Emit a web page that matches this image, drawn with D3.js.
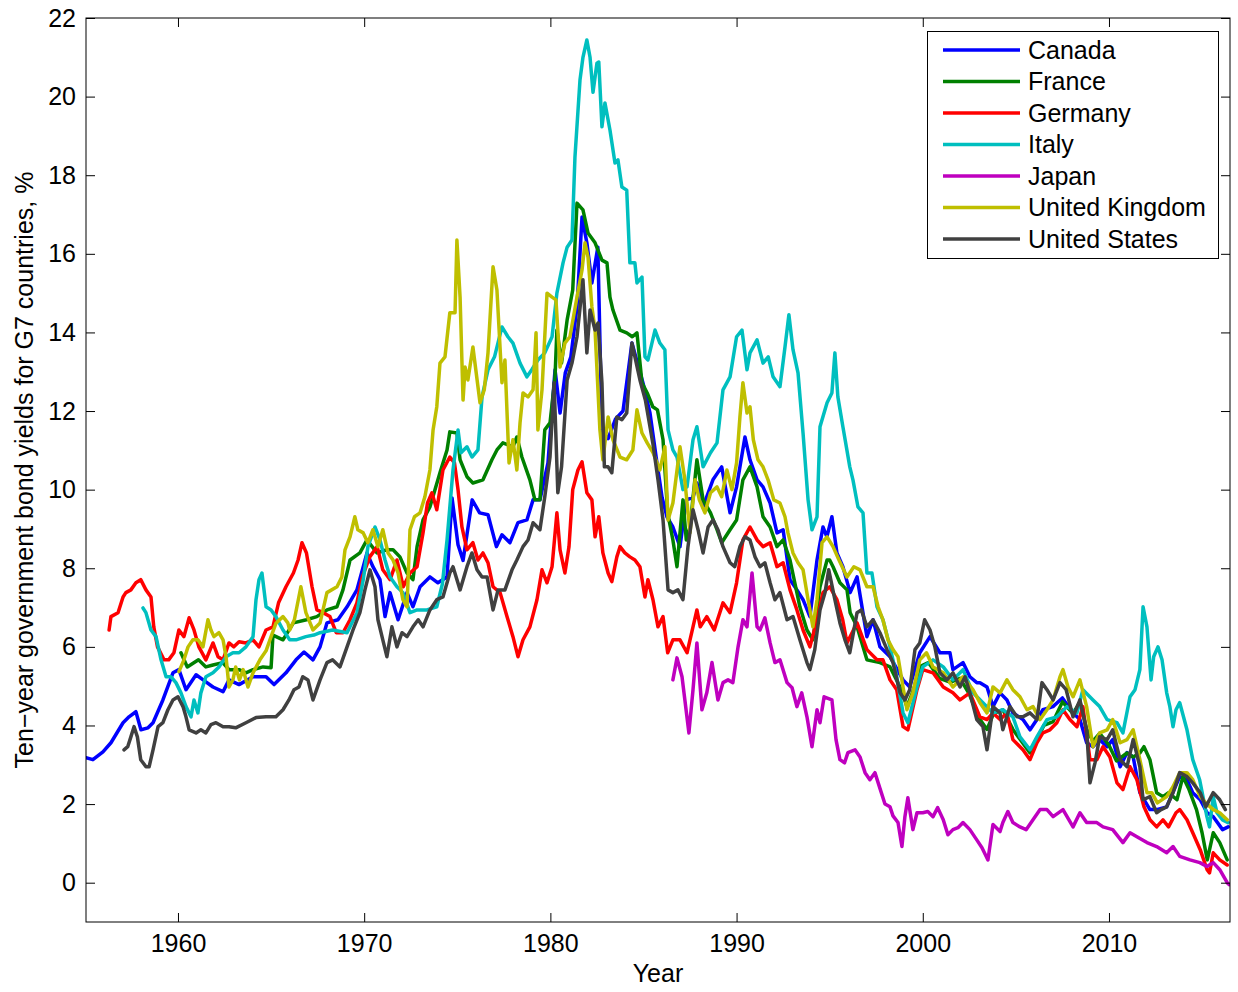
<!DOCTYPE html>
<html>
<head>
<meta charset="utf-8">
<script src="https://cdn.jsdelivr.net/npm/d3@7/dist/d3.min.js"></script>
<style>
  html, body { margin: 0; padding: 0; background: #fff; }
  svg { display: block; }
  text { font-family: "Liberation Sans", Arial, Helvetica, sans-serif; fill: #000; }
</style>
</head>
<body>
<svg id="chart" width="1238" height="992"></svg>
<script>
// ---------------- DATA ----------------
const countries = ["Canada", "France", "Germany", "Italy", "Japan", "United Kingdom", "United States"];
const xTicks = [1960, 1970, 1980, 1990, 2000, 2010];
const yTicks = [0, 2, 4, 6, 8, 10, 12, 14, 16, 18, 20, 22];

const canada = [[1955.06,3.18],[1955.43,3.13],[1955.97,3.33],[1956.4,3.56],[1957.05,4.07],[1957.37,4.22],[1957.74,4.35],[1958.01,3.89],[1958.39,3.94],[1958.66,4.07],[1959.19,4.65],[1959.73,5.34],[1960.05,5.42],[1960.43,4.91],[1960.97,5.29],[1961.5,5.11],[1961.88,4.98],[1962.42,4.86],[1962.74,5.16],[1963.28,5.04],[1964.03,5.24],[1964.73,5.24],[1965.16,5.04],[1965.8,5.34],[1966.34,5.67],[1966.77,5.87],[1967.25,5.67],[1967.63,6.0],[1968.0,6.61],[1968.59,6.69],[1969.08,7.02],[1969.61,7.45],[1970.15,8.39],[1970.47,8.04],[1970.85,7.71],[1971.12,6.77],[1971.39,7.38],[1971.82,6.69],[1972.3,7.38],[1972.62,7.02],[1973.0,7.53],[1973.53,7.78],[1973.96,7.63],[1974.45,7.78],[1974.72,9.79],[1975.04,8.6],[1975.31,8.2],[1975.8,9.74],[1976.2,9.41],[1976.65,9.36],[1977.1,8.55],[1977.4,8.85],[1977.83,8.65],[1978.26,9.16],[1978.74,9.23],[1979.07,9.74],[1979.44,9.74],[1979.87,10.68],[1980.25,13.05],[1980.52,11.95],[1980.8,12.97],[1981.1,13.38],[1981.43,14.65],[1981.7,16.94],[1981.96,16.28],[1982.23,15.26],[1982.55,16.17],[1982.77,11.5],[1983.1,11.3],[1983.5,11.8],[1983.9,12.0],[1984.38,13.73],[1984.97,12.72],[1985.35,11.95],[1985.7,10.76],[1986.0,9.8],[1986.26,9.31],[1986.58,9.05],[1986.96,8.55],[1987.3,9.74],[1987.66,9.8],[1987.87,10.17],[1988.2,9.56],[1988.73,10.25],[1989.2,10.58],[1989.65,9.41],[1990.0,10.07],[1990.45,11.34],[1990.72,10.76],[1991.1,10.25],[1991.42,10.07],[1991.8,9.66],[1992.17,8.9],[1992.5,8.98],[1992.87,7.71],[1993.24,7.45],[1993.57,7.2],[1993.94,6.77],[1994.32,8.21],[1994.64,9.05],[1994.85,8.8],[1995.12,9.31],[1995.39,8.39],[1995.71,8.04],[1996.1,7.38],[1996.47,7.78],[1997.0,6.26],[1997.33,6.69],[1997.7,6.0],[1998.24,5.75],[1998.94,5.16],[1999.3,4.98],[1999.84,5.85],[2000.39,6.26],[2000.92,5.85],[2001.46,5.85],[2001.62,5.42],[2002.16,5.6],[2002.53,5.24],[2002.9,5.09],[2003.07,5.09],[2003.45,4.98],[2003.77,4.48],[2004.15,4.83],[2004.52,4.65],[2004.84,4.32],[2005.38,4.15],[2005.76,3.89],[2006.13,4.15],[2006.45,4.4],[2006.99,4.48],[2007.5,4.7],[2008.07,4.32],[2008.44,4.15],[2008.8,3.56],[2009.14,3.46],[2009.5,3.64],[2009.9,3.46],[2010.2,3.64],[2010.6,2.95],[2010.97,3.31],[2011.3,3.2],[2011.66,2.29],[2012.2,1.86],[2012.56,1.86],[2013.1,1.93],[2013.8,2.7],[2014.19,2.62],[2014.5,2.29],[2014.9,2.11],[2015.27,1.78],[2015.6,1.68],[2016.1,1.35],[2016.4,1.42]];

const france = [[1960.16,5.85],[1960.5,5.49],[1961.1,5.67],[1961.5,5.49],[1961.88,5.54],[1962.4,5.6],[1962.74,5.42],[1963.28,5.42],[1963.65,5.34],[1964.03,5.42],[1964.57,5.49],[1965.0,5.47],[1965.1,6.3],[1965.64,6.18],[1966.2,6.61],[1966.9,6.69],[1967.46,6.77],[1968.0,6.94],[1968.54,7.02],[1968.86,7.45],[1969.24,8.21],[1969.77,8.39],[1970.15,8.72],[1970.69,8.39],[1971.22,8.47],[1971.55,8.47],[1971.92,8.29],[1972.3,7.88],[1972.62,7.71],[1972.84,8.55],[1973.16,9.23],[1973.53,9.56],[1974.07,10.43],[1974.45,11.01],[1974.6,11.47],[1974.98,11.44],[1975.15,10.76],[1975.52,10.33],[1975.84,10.17],[1976.38,10.25],[1976.86,10.76],[1977.13,11.01],[1977.45,11.19],[1977.99,11.09],[1978.2,11.34],[1978.47,10.83],[1978.9,10.25],[1979.17,9.74],[1979.44,9.74],[1979.7,11.52],[1979.98,11.7],[1980.25,12.87],[1980.35,14.06],[1980.6,13.22],[1980.9,14.32],[1981.2,15.08],[1981.43,17.29],[1981.75,17.12],[1982.02,16.53],[1982.4,16.28],[1982.77,15.84],[1983.04,15.77],[1983.2,14.9],[1983.36,14.57],[1983.74,14.06],[1984.1,13.99],[1984.4,13.89],[1984.65,13.99],[1984.92,12.72],[1985.2,12.46],[1985.5,12.11],[1985.75,12.03],[1986.05,11.27],[1986.3,9.4],[1986.58,8.72],[1986.8,8.04],[1987.12,9.74],[1987.3,8.72],[1987.5,9.05],[1987.87,10.76],[1988.2,9.74],[1988.6,9.41],[1988.95,8.98],[1989.2,8.65],[1989.65,8.98],[1990.0,9.23],[1990.34,10.25],[1990.72,10.58],[1991.1,10.07],[1991.42,9.31],[1991.8,9.05],[1992.17,8.55],[1992.5,8.72],[1992.87,8.21],[1993.4,7.02],[1993.78,6.43],[1994.1,6.18],[1994.48,7.53],[1994.86,8.21],[1995.0,8.21],[1995.18,8.04],[1995.55,7.63],[1995.93,7.45],[1996.1,6.87],[1996.47,6.51],[1997.0,5.67],[1997.7,5.6],[1998.24,5.49],[1998.78,4.98],[1999.15,4.48],[1999.5,4.9],[1999.84,5.5],[2000.3,5.6],[2000.9,5.2],[2001.5,5.1],[2002.0,5.2],[2002.5,4.8],[2003.0,4.2],[2003.45,3.9],[2003.8,4.3],[2004.3,4.4],[2004.84,3.9],[2005.3,3.6],[2005.76,3.3],[2006.2,3.7],[2006.5,4.0],[2007.0,4.1],[2007.5,4.6],[2008.07,4.3],[2008.44,4.6],[2008.8,3.9],[2009.14,3.6],[2009.5,3.8],[2010.0,3.5],[2010.4,3.1],[2010.97,3.3],[2011.3,3.2],[2011.66,3.3],[2011.88,3.46],[2012.2,3.13],[2012.56,2.29],[2012.9,2.19],[2013.2,2.29],[2013.65,2.11],[2013.97,2.7],[2014.3,2.37],[2014.7,1.86],[2015.0,1.27],[2015.28,0.58],[2015.6,1.27],[2015.95,1.02],[2016.35,0.58]];

const germany = [[1956.3,6.43],[1956.4,6.77],[1956.78,6.87],[1957.05,7.27],[1957.2,7.38],[1957.47,7.45],[1957.74,7.63],[1958.0,7.71],[1958.28,7.45],[1958.55,7.27],[1958.7,6.51],[1958.9,6.0],[1959.25,5.67],[1959.5,5.67],[1959.78,5.85],[1960.05,6.43],[1960.32,6.26],[1960.6,6.74],[1960.86,6.43],[1961.12,6.0],[1961.5,5.67],[1961.88,6.1],[1962.15,5.75],[1962.42,5.67],[1962.74,6.1],[1963.0,6.0],[1963.28,6.13],[1963.65,6.1],[1964.03,6.18],[1964.35,6.0],[1964.73,6.43],[1965.1,6.51],[1965.4,7.12],[1965.8,7.53],[1966.2,7.88],[1966.45,8.21],[1966.66,8.65],[1966.9,8.39],[1967.2,7.53],[1967.46,6.94],[1967.8,6.87],[1968.16,6.77],[1968.5,6.36],[1968.86,6.36],[1969.24,6.69],[1969.61,7.12],[1969.9,7.78],[1970.3,8.29],[1970.7,8.55],[1971.0,7.96],[1971.39,7.71],[1971.76,8.21],[1972.1,7.53],[1972.46,7.88],[1972.84,8.04],[1973.16,8.9],[1973.4,9.66],[1973.64,9.92],[1973.9,9.49],[1974.23,10.5],[1974.6,10.83],[1974.85,10.68],[1975.04,10.0],[1975.25,9.05],[1975.52,8.47],[1975.84,8.65],[1976.11,8.21],[1976.38,8.39],[1976.65,8.14],[1976.92,7.53],[1977.3,7.38],[1977.67,6.77],[1977.99,6.26],[1978.26,5.75],[1978.53,6.18],[1978.9,6.51],[1979.28,7.2],[1979.55,7.96],[1979.82,7.63],[1980.09,8.04],[1980.35,9.41],[1980.52,8.47],[1980.78,7.88],[1981.0,8.55],[1981.2,10.0],[1981.48,10.5],[1981.7,10.71],[1981.96,9.92],[1982.23,9.74],[1982.4,8.8],[1982.6,9.31],[1982.82,8.39],[1983.1,7.88],[1983.3,7.66],[1983.57,8.29],[1983.74,8.55],[1984.0,8.39],[1984.27,8.29],[1984.54,8.21],[1984.81,8.04],[1985.08,7.27],[1985.24,7.71],[1985.51,7.2],[1985.78,6.51],[1986.05,6.77],[1986.3,5.85],[1986.58,6.18],[1986.96,6.18],[1987.34,5.85],[1987.66,6.51],[1987.87,6.94],[1988.05,6.51],[1988.4,6.77],[1988.8,6.43],[1989.27,7.12],[1989.65,6.87],[1990.0,7.63],[1990.34,8.72],[1990.72,9.05],[1991.1,8.72],[1991.42,8.55],[1991.8,8.65],[1992.17,8.04],[1992.5,8.14],[1992.87,7.45],[1993.24,6.94],[1993.57,6.43],[1993.94,6.0],[1994.32,6.69],[1994.64,7.38],[1995.0,7.53],[1995.39,7.2],[1995.7,6.69],[1995.93,6.1],[1996.47,6.61],[1997.0,5.93],[1997.54,5.67],[1997.86,5.67],[1998.24,5.16],[1998.6,4.91],[1998.94,3.97],[1999.2,3.89],[1999.69,4.91],[2000.0,5.42],[2000.55,5.34],[2001.1,4.98],[2001.62,4.83],[2002.0,4.65],[2002.53,4.83],[2003.07,4.22],[2003.45,4.15],[2003.77,4.32],[2004.15,4.15],[2004.52,4.32],[2004.84,3.64],[2005.38,3.38],[2005.76,3.13],[2006.13,3.56],[2006.45,3.81],[2006.83,3.89],[2007.2,4.07],[2007.53,4.4],[2007.9,4.15],[2008.28,3.97],[2008.6,4.48],[2008.98,3.13],[2009.35,3.13],[2009.68,3.46],[2010.05,3.2],[2010.43,2.54],[2010.75,2.37],[2011.13,2.95],[2011.5,2.62],[2011.88,1.93],[2012.2,1.6],[2012.56,1.42],[2012.9,1.6],[2013.2,1.42],[2013.6,1.78],[2013.8,1.86],[2014.19,1.6],[2014.5,1.27],[2014.9,0.84],[2015.27,0.33],[2015.4,0.25],[2015.6,0.76],[2015.95,0.58],[2016.35,0.45]];

const italy = [[1958.12,6.99],[1958.28,6.87],[1958.55,6.43],[1958.82,6.26],[1959.09,5.67],[1959.36,5.24],[1959.62,5.24],[1959.89,5.09],[1960.16,4.83],[1960.43,4.48],[1960.7,4.22],[1960.86,4.65],[1961.07,4.32],[1961.23,4.83],[1961.5,5.24],[1961.88,5.34],[1962.2,5.49],[1962.58,5.75],[1962.95,5.85],[1963.28,5.85],[1963.65,6.0],[1964.03,6.26],[1964.19,7.2],[1964.35,7.71],[1964.51,7.88],[1964.73,7.02],[1965.0,6.94],[1965.26,6.77],[1965.64,6.43],[1966.0,6.18],[1966.34,6.18],[1966.87,6.26],[1967.3,6.3],[1967.63,6.36],[1968.3,6.43],[1969.08,6.36],[1969.61,6.87],[1969.95,7.71],[1970.2,8.55],[1970.58,9.05],[1970.85,8.72],[1971.12,8.21],[1971.39,7.78],[1971.76,7.53],[1972.08,7.38],[1972.46,6.87],[1972.84,6.94],[1973.37,6.94],[1973.9,7.02],[1974.2,7.6],[1974.45,8.72],[1974.77,10.5],[1975.04,11.52],[1975.2,10.94],[1975.52,11.09],[1975.79,10.83],[1976.11,11.01],[1976.33,12.36],[1976.65,13.05],[1977.0,13.38],[1977.4,14.14],[1977.72,13.89],[1977.99,13.73],[1978.37,13.22],[1978.74,12.87],[1979.0,13.05],[1979.33,13.3],[1979.7,13.48],[1980.09,13.89],[1980.35,15.0],[1980.68,15.77],[1980.9,16.17],[1981.16,16.35],[1981.32,18.46],[1981.59,20.42],[1981.75,21.0],[1981.96,21.44],[1982.13,21.0],[1982.29,20.11],[1982.5,20.85],[1982.6,20.88],[1982.77,19.23],[1982.93,19.84],[1983.2,19.15],[1983.47,18.31],[1983.63,18.39],[1983.84,17.7],[1984.1,17.62],[1984.27,15.77],[1984.54,15.77],[1984.65,15.26],[1984.92,15.41],[1985.08,13.38],[1985.24,13.3],[1985.62,14.06],[1985.88,13.73],[1986.15,13.56],[1986.32,11.52],[1986.58,11.01],[1986.8,10.83],[1987.12,10.0],[1987.34,10.07],[1987.66,11.27],[1987.87,11.6],[1988.2,10.58],[1988.6,10.94],[1988.95,11.19],[1989.27,12.54],[1989.65,12.87],[1990.0,13.89],[1990.29,14.06],[1990.56,13.05],[1990.72,13.48],[1991.1,13.81],[1991.42,13.22],[1991.7,13.38],[1991.96,12.87],[1992.33,12.62],[1992.6,13.63],[1992.81,14.45],[1993.03,13.56],[1993.3,12.97],[1993.57,11.44],[1993.84,9.74],[1994.05,8.98],[1994.32,9.31],[1994.48,11.6],[1994.86,12.21],[1995.12,12.46],[1995.28,13.48],[1995.44,12.36],[1995.71,11.6],[1996.08,10.58],[1996.25,10.25],[1996.52,9.56],[1996.79,9.41],[1997.0,7.88],[1997.27,7.88],[1997.54,7.02],[1997.86,6.69],[1998.24,6.0],[1998.6,5.24],[1998.94,4.32],[1999.2,4.07],[1999.69,4.98],[2000.0,5.49],[2000.55,5.67],[2001.1,5.49],[2001.62,5.16],[2002.16,5.42],[2002.7,4.83],[2003.23,4.58],[2003.77,4.32],[2004.3,4.4],[2004.84,4.22],[2005.22,3.71],[2005.76,3.38],[2006.13,3.71],[2006.67,4.15],[2007.2,4.22],[2007.74,4.48],[2008.28,4.32],[2008.6,4.91],[2009.14,4.65],[2009.5,4.48],[2009.9,4.15],[2010.43,4.07],[2010.75,3.81],[2011.13,4.73],[2011.4,4.91],[2011.66,5.42],[2011.83,7.02],[2012.04,6.51],[2012.26,5.16],[2012.4,5.75],[2012.63,6.0],[2012.85,5.67],[2013.1,4.83],[2013.27,4.48],[2013.44,3.97],[2013.6,4.4],[2013.8,4.58],[2014.19,3.89],[2014.5,3.13],[2014.87,2.62],[2015.26,1.68],[2015.4,1.42],[2015.6,2.19],[2015.8,1.78],[2016.1,1.6],[2016.4,1.53]];

const japan = [[1986.58,5.16],[1986.8,5.72],[1987.07,5.24],[1987.44,3.81],[1987.66,4.91],[1987.87,6.1],[1988.14,4.4],[1988.4,4.83],[1988.68,5.6],[1989.0,4.65],[1989.27,5.09],[1989.54,5.16],[1989.8,5.09],[1990.08,6.0],[1990.34,6.69],[1990.56,6.51],[1990.83,7.88],[1991.1,6.51],[1991.26,6.43],[1991.52,6.74],[1991.8,6.1],[1992.06,5.6],[1992.33,5.67],[1992.71,5.09],[1992.98,4.96],[1993.24,4.48],[1993.5,4.83],[1993.78,4.22],[1994.05,3.46],[1994.32,4.4],[1994.48,4.07],[1994.7,4.73],[1995.12,4.65],[1995.34,3.64],[1995.55,3.13],[1995.8,3.05],[1995.98,3.31],[1996.36,3.38],[1996.63,3.2],[1996.9,2.8],[1997.16,2.62],[1997.43,2.8],[1997.7,2.4],[1997.97,2.0],[1998.24,1.93],[1998.4,1.7],[1998.67,1.53],[1998.88,0.92],[1999.04,1.68],[1999.2,2.16],[1999.47,1.35],[1999.69,1.78],[2000.0,1.78],[2000.27,1.81],[2000.55,1.68],[2000.8,1.91],[2001.1,1.6],[2001.35,1.22],[2001.62,1.35],[2001.89,1.4],[2002.16,1.53],[2002.53,1.35],[2002.9,1.09],[2003.18,0.89],[2003.5,0.58],[2003.77,1.48],[2004.15,1.3],[2004.3,1.53],[2004.57,1.81],[2004.84,1.53],[2005.22,1.42],[2005.55,1.35],[2005.92,1.6],[2006.3,1.86],[2006.67,1.86],[2007.0,1.68],[2007.53,1.86],[2008.07,1.42],[2008.44,1.78],[2008.8,1.53],[2009.35,1.53],[2009.68,1.42],[2010.2,1.35],[2010.75,1.02],[2011.13,1.27],[2011.5,1.17],[2012.04,1.02],[2012.56,0.92],[2013.1,0.76],[2013.44,0.92],[2013.8,0.67],[2014.35,0.58],[2014.88,0.51],[2015.26,0.41],[2015.6,0.51],[2015.95,0.33],[2016.35,0.0],[2016.45,-0.05]];

const unitedKingdom = [[1960.05,5.37],[1960.32,5.67],[1960.54,6.0],[1960.8,6.18],[1961.07,6.18],[1961.34,6.0],[1961.61,6.69],[1961.77,6.43],[1961.93,6.26],[1962.2,6.36],[1962.42,6.18],[1962.58,5.75],[1962.74,4.98],[1962.95,5.16],[1963.1,5.49],[1963.3,5.16],[1963.5,5.42],[1963.76,4.98],[1964.03,5.34],[1964.4,5.67],[1964.73,5.9],[1965.0,6.26],[1965.26,6.6],[1965.64,6.77],[1965.9,6.61],[1966.0,6.43],[1966.25,6.69],[1966.6,7.53],[1966.87,6.87],[1967.25,6.43],[1967.63,6.61],[1968.0,7.38],[1968.54,7.53],[1968.8,7.78],[1968.97,8.47],[1969.24,8.8],[1969.5,9.31],[1969.66,8.98],[1969.95,8.9],[1970.2,8.65],[1970.47,8.98],[1970.74,8.55],[1971.0,8.98],[1971.28,8.39],[1971.55,8.21],[1971.82,7.88],[1972.08,7.2],[1972.3,7.02],[1972.46,8.98],[1972.7,9.31],[1973.0,9.41],[1973.26,9.82],[1973.53,10.5],[1973.7,11.52],[1973.9,12.11],[1974.07,13.22],[1974.34,13.38],[1974.6,14.5],[1974.88,14.5],[1974.98,16.35],[1975.15,14.9],[1975.31,12.28],[1975.42,13.12],[1975.57,12.79],[1975.84,13.63],[1976.22,12.21],[1976.45,12.54],[1976.65,13.48],[1976.92,15.67],[1977.13,15.08],[1977.4,12.72],[1977.56,13.3],[1977.78,10.68],[1977.99,11.27],[1978.2,10.5],[1978.37,11.7],[1978.53,12.46],[1978.8,12.36],[1979.07,12.54],[1979.23,13.99],[1979.33,11.52],[1979.55,12.54],[1979.82,15.0],[1980.09,14.9],[1980.3,14.83],[1980.52,13.12],[1980.78,13.73],[1981.05,13.89],[1981.43,14.9],[1981.7,15.59],[1981.86,16.28],[1982.02,15.92],[1982.23,14.65],[1982.4,14.06],[1982.66,11.52],[1982.82,10.76],[1983.1,11.85],[1983.36,11.27],[1983.74,10.83],[1984.1,10.76],[1984.43,11.01],[1984.65,12.03],[1984.92,11.44],[1985.2,11.19],[1985.51,10.94],[1985.88,10.5],[1986.15,11.09],[1986.32,9.23],[1986.58,9.66],[1986.96,11.09],[1987.2,10.33],[1987.5,8.9],[1987.77,10.25],[1988.0,9.74],[1988.3,9.41],[1988.6,9.92],[1988.95,10.07],[1989.2,9.82],[1989.48,10.5],[1989.75,10.0],[1990.0,10.68],[1990.18,11.85],[1990.34,12.72],[1990.56,11.95],[1990.72,12.11],[1990.9,11.27],[1991.15,10.76],[1991.42,10.58],[1991.69,10.25],[1992.0,9.74],[1992.33,9.66],[1992.6,9.31],[1992.76,8.9],[1993.03,8.39],[1993.3,8.14],[1993.57,7.96],[1993.84,7.2],[1994.1,6.51],[1994.32,7.2],[1994.59,8.65],[1994.86,8.8],[1995.18,8.55],[1995.5,8.21],[1995.93,7.78],[1996.3,8.04],[1996.63,7.96],[1997.0,7.53],[1997.33,7.53],[1997.6,7.02],[1997.86,6.69],[1998.13,6.18],[1998.4,5.93],[1998.67,5.75],[1998.94,4.98],[1999.15,4.4],[1999.47,4.83],[1999.84,5.67],[2000.2,5.85],[2000.55,5.49],[2001.1,5.34],[2001.62,4.98],[2002.16,5.24],[2002.7,4.91],[2003.07,4.58],[2003.45,4.32],[2003.77,4.98],[2004.15,4.83],[2004.52,5.16],[2004.84,4.91],[2005.22,4.73],[2005.6,4.4],[2005.92,4.48],[2006.3,4.15],[2006.67,4.4],[2007.0,4.65],[2007.37,5.24],[2007.53,5.42],[2007.8,4.98],[2008.07,4.73],[2008.44,5.16],[2008.8,4.48],[2009.14,3.46],[2009.5,3.81],[2009.9,3.89],[2010.2,4.15],[2010.6,3.56],[2010.97,3.64],[2011.3,3.89],[2011.66,3.13],[2012.04,2.29],[2012.3,2.29],[2012.6,2.03],[2013.1,2.19],[2013.44,2.44],[2013.8,2.8],[2014.19,2.8],[2014.5,2.62],[2014.9,2.19],[2015.2,2.03],[2015.6,1.86],[2015.95,1.78],[2016.35,1.6]];

const unitedStates = [[1957.1,3.38],[1957.3,3.46],[1957.47,3.71],[1957.64,3.97],[1957.82,3.71],[1958.0,3.13],[1958.28,2.95],[1958.45,2.95],[1958.66,3.38],[1958.93,3.97],[1959.19,4.07],[1959.46,4.4],[1959.73,4.65],[1960.0,4.73],[1960.27,4.48],[1960.43,4.22],[1960.6,3.89],[1960.97,3.81],[1961.23,3.89],[1961.5,3.81],[1961.77,4.02],[1962.04,4.07],[1962.42,3.97],[1962.74,3.97],[1963.1,3.94],[1963.65,4.07],[1964.19,4.2],[1964.73,4.22],[1965.26,4.22],[1965.64,4.4],[1965.96,4.65],[1966.23,4.91],[1966.5,4.98],[1966.7,5.24],[1966.98,5.16],[1967.25,4.65],[1967.63,5.16],[1968.0,5.6],[1968.3,5.67],[1968.7,5.49],[1969.08,6.0],[1969.4,6.43],[1969.77,6.87],[1970.04,7.45],[1970.31,7.96],[1970.58,7.53],[1970.74,6.69],[1971.0,6.18],[1971.22,5.75],[1971.49,6.51],[1971.76,6.0],[1972.03,6.36],[1972.3,6.26],[1972.62,6.51],[1972.9,6.69],[1973.16,6.51],[1973.53,6.94],[1973.9,7.2],[1974.23,7.27],[1974.6,7.88],[1974.77,8.04],[1975.15,7.45],[1975.52,8.04],[1975.79,8.39],[1976.06,7.96],[1976.33,7.78],[1976.6,7.78],[1976.92,6.94],[1977.19,7.45],[1977.56,7.45],[1977.94,7.96],[1978.2,8.21],[1978.53,8.55],[1978.8,8.72],[1979.07,9.16],[1979.44,8.98],[1979.7,9.82],[1979.98,10.83],[1980.2,12.72],[1980.4,9.92],[1980.6,10.58],[1980.9,12.79],[1981.16,13.22],[1981.43,13.89],[1981.75,15.34],[1981.96,13.48],[1982.13,14.57],[1982.4,14.06],[1982.56,14.24],[1982.77,12.72],[1982.9,10.58],[1983.1,10.58],[1983.3,10.43],[1983.57,11.85],[1983.84,11.78],[1984.1,11.95],[1984.38,13.73],[1984.81,12.79],[1985.1,12.28],[1985.5,11.19],[1985.78,10.25],[1986.05,9.23],[1986.32,7.45],[1986.58,7.38],[1986.85,7.45],[1987.12,7.2],[1987.39,8.55],[1987.66,9.49],[1987.93,8.98],[1988.2,8.39],[1988.47,9.05],[1988.73,9.23],[1989.0,8.98],[1989.27,8.55],[1989.65,8.14],[1989.9,8.04],[1990.18,8.55],[1990.45,8.8],[1990.72,8.72],[1990.99,8.29],[1991.26,8.04],[1991.52,8.14],[1991.8,7.63],[1992.06,7.2],[1992.33,7.38],[1992.71,6.69],[1993.03,6.77],[1993.4,6.18],[1993.78,5.6],[1993.94,5.42],[1994.2,5.93],[1994.48,6.94],[1994.75,7.38],[1994.95,7.96],[1995.28,7.2],[1995.55,6.61],[1995.82,6.18],[1996.08,5.85],[1996.47,6.87],[1996.7,6.94],[1997.0,6.51],[1997.33,6.69],[1997.7,6.36],[1998.08,5.93],[1998.4,5.6],[1998.78,4.83],[1999.04,4.65],[1999.3,4.91],[1999.58,5.93],[1999.84,6.1],[2000.1,6.69],[2000.39,6.43],[2000.65,6.0],[2000.92,5.34],[2001.3,5.16],[2001.62,5.34],[2002.0,4.98],[2002.27,5.24],[2002.53,4.83],[2002.9,4.15],[2003.23,3.97],[2003.45,3.38],[2003.77,4.48],[2004.15,4.32],[2004.3,3.89],[2004.68,4.48],[2005.06,4.22],[2005.38,4.22],[2005.76,4.32],[2006.13,4.15],[2006.4,5.09],[2006.67,4.91],[2007.0,4.65],[2007.37,5.09],[2007.7,4.91],[2008.07,4.22],[2008.44,4.65],[2008.8,3.89],[2008.98,2.54],[2009.25,3.05],[2009.5,3.71],[2009.9,3.64],[2010.2,3.89],[2010.6,3.13],[2010.97,2.95],[2011.3,3.64],[2011.66,2.95],[2011.83,2.11],[2012.2,2.19],[2012.56,1.78],[2012.8,1.86],[2013.1,1.93],[2013.44,2.29],[2013.8,2.8],[2014.19,2.7],[2014.5,2.54],[2014.9,2.29],[2015.2,1.93],[2015.6,2.29],[2015.95,2.11],[2016.25,1.86]];

const seriesValues = [canada, france, germany, italy, japan, unitedKingdom, unitedStates];
const colors = ["#0000ff", "#008000", "#ff0000", "#00bfbf", "#bf00bf", "#bfbf00", "#404040"];

// ---------------- LAYOUT ----------------
const svg = d3.select("#chart");
const L = 86, R = 1230, T = 18, B = 922;
const FS = 25;

const x = d3.scaleLinear().domain([1955.06, 2016.5]).range([L, R]);
const y = d3.scaleLinear().domain([-1, 22]).range([B, T]);

svg.append("rect").attr("x", 0).attr("y", 0).attr("width", 1238).attr("height", 992).attr("fill", "#fff");

svg.append("clipPath").attr("id", "clip")
  .append("rect").attr("x", L).attr("y", T).attr("width", R - L).attr("height", B - T);

const line = d3.line().x(d => x(d[0])).y(d => y(d[1]));
const g = svg.append("g").attr("clip-path", "url(#clip)");
seriesValues.forEach((s, i) => {
  g.append("path")
    .datum(s)
    .attr("d", line)
    .attr("fill", "none")
    .attr("stroke", colors[i])
    .attr("stroke-width", 3.5)
    .attr("stroke-linejoin", "round")
    .attr("stroke-linecap", "round");
});

function styleAxis(sel) {
  sel.selectAll(".domain").remove();
  sel.selectAll(".tick line").attr("stroke", "#000").attr("stroke-width", 1);
  sel.selectAll(".tick text").attr("font-size", FS).attr("fill", "#000")
    .attr("font-family", '"Liberation Sans", Arial, sans-serif');
}
const tick = 9;
svg.append("g").attr("transform", `translate(0,${B})`)
  .call(d3.axisBottom(x).tickValues(xTicks).tickFormat(d3.format("d")).tickSizeInner(-tick).tickSizeOuter(0).tickPadding(12))
  .call(styleAxis);
svg.append("g").attr("transform", `translate(0,${T})`)
  .call(d3.axisTop(x).tickValues(xTicks).tickFormat("").tickSizeInner(-tick).tickSizeOuter(0))
  .call(styleAxis);
svg.append("g").attr("transform", `translate(${L},0)`)
  .call(d3.axisLeft(y).tickValues(yTicks).tickFormat(d3.format("d")).tickSizeInner(-tick).tickSizeOuter(0).tickPadding(10))
  .call(styleAxis);
svg.append("g").attr("transform", `translate(${R},0)`)
  .call(d3.axisRight(y).tickValues(yTicks).tickFormat("").tickSizeInner(-tick).tickSizeOuter(0))
  .call(styleAxis);

svg.append("rect").attr("x", L).attr("y", T).attr("width", R - L).attr("height", B - T)
  .attr("fill", "none").attr("stroke", "#000").attr("stroke-width", 1);

svg.append("text").attr("x", (L + R) / 2).attr("y", 982).attr("text-anchor", "middle")
  .attr("font-size", FS).text("Year");
svg.append("text").attr("transform", `translate(33,${(T + B) / 2}) rotate(-90)`)
  .attr("text-anchor", "middle").attr("font-size", FS)
  .text("Ten\u2212year government bond yields for G7 countries, %");

const lg = svg.append("g");
lg.append("rect").attr("x", 927.5).attr("y", 31.5).attr("width", 291).attr("height", 227)
  .attr("fill", "#fff").attr("stroke", "#000").attr("stroke-width", 1);
countries.forEach((c, i) => {
  const yy = 50 + i * 31.5;
  lg.append("line").attr("x1", 943).attr("x2", 1020).attr("y1", yy).attr("y2", yy)
    .attr("stroke", colors[i]).attr("stroke-width", 3.5);
  lg.append("text").attr("x", 1028).attr("y", yy).attr("dy", "0.35em")
    .attr("font-size", FS).text(c);
});
</script>
</body>
</html>
